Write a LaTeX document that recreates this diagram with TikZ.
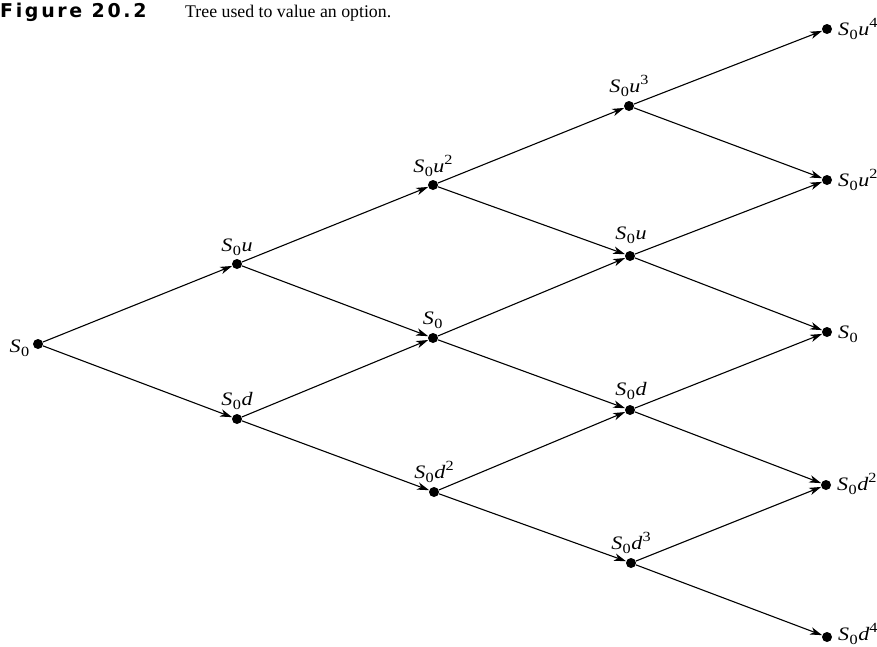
\documentclass[tikz,border=0pt]{standalone}
\usepackage{fontspec}
\setmainfont{Liberation Serif}
\newfontfamily\titlefont[LetterSpace=14]{DejaVu Sans}
\usetikzlibrary{arrows.meta}
\newcommand\lbl[2]{\scalebox{1.16}[1]{\textit{S}\kern0.3pt\raisebox{-0.22em}{\fontsize{14}{14}\selectfont 0}\kern0.5pt\textit{#1}\raisebox{0.42em}{\fontsize{14}{14}\selectfont #2}}}
\tikzset{
  dot/.style={circle,fill=black,inner sep=0pt,minimum size=10pt},
  edge/.style={line width=1.1pt,-{Stealth[length=12pt,width=7.5pt,inset=3.5pt]}},
  lab/.style={font=\fontsize{19}{19}\selectfont,inner sep=0pt}
}
\begin{document}
\begin{tikzpicture}[x=1pt,y=-1pt]
\useasboundingbox (0,0) rectangle (877,646);
\node[anchor=base west,inner sep=0pt,font=\titlefont\fontsize{19}{20}\selectfont\bfseries] (title) at (0,17) {Figure 20.2};
\node[anchor=base west,inner sep=0pt,font=\fontsize{17.8}{20}\selectfont] (caption) at (185,17) {Tree used to value an option.};
% nodes
\node[dot] (r) at (38,344) {};
\node[dot] (u) at (237,264) {};
\node[dot] (d) at (237,419) {};
\node[dot] (uu) at (433,185) {};
\node[dot] (m2) at (433,338) {};
\node[dot] (dd) at (434,492) {};
\node[dot] (uuu) at (629,106) {};
\node[dot] (u3) at (630,256) {};
\node[dot] (d3) at (630,410) {};
\node[dot] (ddd) at (631,563) {};
\node[dot] (u4) at (827,29) {};
\node[dot] (u2r) at (827,180) {};
\node[dot] (m4) at (827,332) {};
\node[dot] (d2r) at (826,485) {};
\node[dot] (d4) at (827,637) {};
% labels
\node[lab,anchor=base east] (lr) at (30,352) {\lbl{}{}};
\node[lab,anchor=base] (lu) at (237,251) {\lbl{u}{}};
\node[lab,anchor=base] (ld) at (237,405) {\lbl{d}{}};
\node[lab,anchor=base] (luu) at (433,172) {\lbl{u}{2}};
\node[lab,anchor=base] (lm2) at (433,324) {\lbl{}{}};
\node[lab,anchor=base] (ldd) at (434,478) {\lbl{d}{2}};
\node[lab,anchor=base] (luuu) at (629,92) {\lbl{u}{3}};
\node[lab,anchor=base] (lu3) at (631,239) {\lbl{u}{}};
\node[lab,anchor=base] (ld3) at (631,395) {\lbl{d}{}};
\node[lab,anchor=base] (lddd) at (631,549) {\lbl{d}{3}};
\node[lab,anchor=base west] (lu4) at (838,35) {\lbl{u}{4}};
\node[lab,anchor=base west] (lu2r) at (838,186) {\lbl{u}{2}};
\node[lab,anchor=base west] (lm4) at (838,338) {\lbl{}{}};
\node[lab,anchor=base west] (ld2r) at (837,490) {\lbl{d}{2}};
\node[lab,anchor=base west] (ld4) at (838,640) {\lbl{d}{4}};
% edges
\draw[edge] (r) -- (u);
\draw[edge] (r) -- (d);
\draw[edge] (u) -- (uu);
\draw[edge] (u) -- (m2);
\draw[edge] (d) -- (m2);
\draw[edge] (d) -- (dd);
\draw[edge] (uu) -- (uuu);
\draw[edge] (uu) -- (u3);
\draw[edge] (m2) -- (u3);
\draw[edge] (m2) -- (d3);
\draw[edge] (dd) -- (d3);
\draw[edge] (dd) -- (ddd);
\draw[edge] (uuu) -- (u4);
\draw[edge] (uuu) -- (u2r);
\draw[edge] (u3) -- (u2r);
\draw[edge] (u3) -- (m4);
\draw[edge] (d3) -- (m4);
\draw[edge] (d3) -- (d2r);
\draw[edge] (ddd) -- (d2r);
\draw[edge] (ddd) -- (d4);
\end{tikzpicture}
\end{document}
